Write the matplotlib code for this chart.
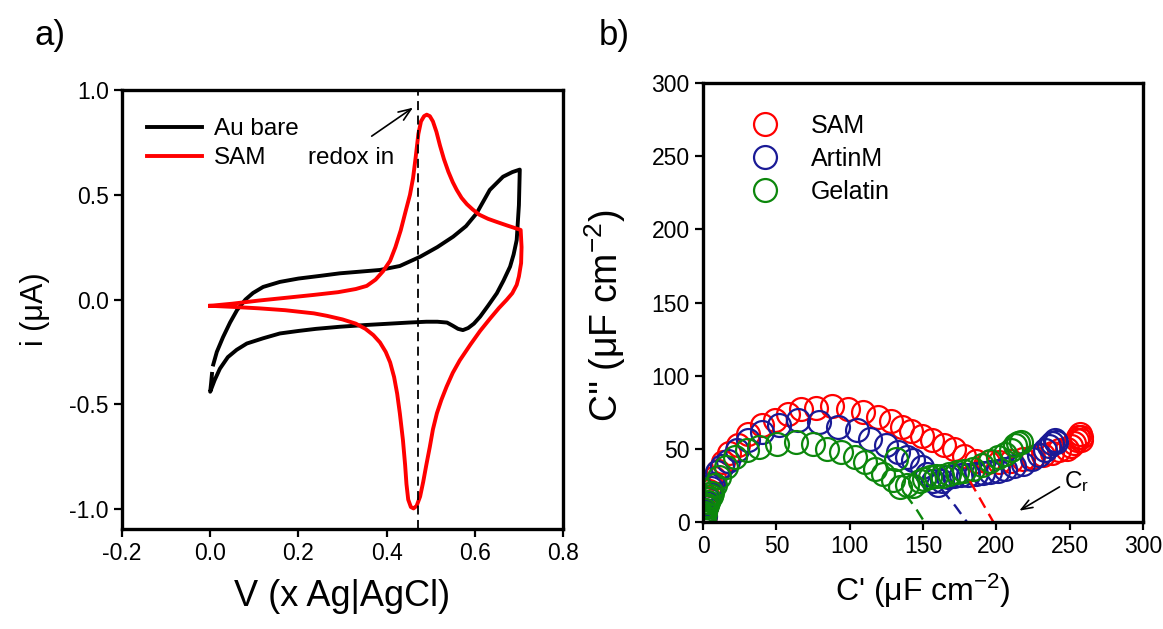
import matplotlib
matplotlib.use("Agg")
import matplotlib.pyplot as plt
from matplotlib.ticker import FormatStrFormatter

plt.rcParams['font.family'] = ['Liberation Sans', 'DejaVu Sans']
plt.rcParams['mathtext.fontset'] = 'custom'
plt.rcParams['mathtext.rm'] = 'Liberation Sans'
plt.rcParams['mathtext.default'] = 'regular'
plt.rcParams['axes.unicode_minus'] = False

# ---- panel a: cyclic voltammetry ----
bare_v = [0.007, 0.015, 0.029, 0.045, 0.061, 0.080, 0.097, 0.120, 0.158, 0.200, 0.250, 0.294,
          0.340, 0.385, 0.430, 0.476, 0.515, 0.551, 0.580, 0.604, 0.634, 0.664, 0.685, 0.702,
          0.700, 0.695, 0.688, 0.680, 0.665, 0.650, 0.630, 0.612, 0.598, 0.585, 0.573, 0.562,
          0.550, 0.537, 0.515, 0.490, 0.450, 0.400, 0.350, 0.294, 0.240, 0.200, 0.158, 0.120,
          0.083, 0.060, 0.040, 0.022, 0.010, 0.000, 0.002, 0.004]
bare_i = [-0.31, -0.25, -0.18, -0.11, -0.05, 0.00, 0.031, 0.060, 0.084, 0.100, 0.113, 0.125,
          0.133, 0.141, 0.160, 0.204, 0.250, 0.300, 0.350, 0.411, 0.523, 0.586, 0.608, 0.620,
          0.450, 0.284, 0.215, 0.157, 0.090, 0.030, -0.030, -0.082, -0.115, -0.136, -0.146, -0.140,
          -0.125, -0.110, -0.106, -0.106, -0.110, -0.116, -0.122, -0.130, -0.140, -0.150, -0.162, -0.185,
          -0.210, -0.240, -0.275, -0.330, -0.385, -0.440, -0.400, -0.355]

sam_v = [0.000, 0.050, 0.110, 0.180, 0.235, 0.290, 0.330, 0.355, 0.375, 0.392, 0.408, 0.420,
         0.432, 0.443, 0.453, 0.460, 0.466, 0.472, 0.478, 0.485, 0.491, 0.498, 0.505, 0.513,
         0.521, 0.530, 0.540, 0.550, 0.559, 0.570, 0.582, 0.595, 0.610, 0.630, 0.650, 0.675,
         0.704, 0.706, 0.705, 0.700, 0.695, 0.685, 0.672, 0.655, 0.635, 0.612, 0.590, 0.566,
         0.550, 0.536, 0.524, 0.514, 0.505, 0.498, 0.490, 0.483, 0.476, 0.468, 0.461, 0.455,
         0.449, 0.445, 0.442, 0.437, 0.430, 0.424, 0.417, 0.408, 0.398, 0.385, 0.370, 0.352,
         0.330, 0.300, 0.265, 0.235, 0.200, 0.170, 0.110, 0.050, 0.000]
sam_i = [-0.030, -0.020, -0.005, 0.010, 0.022, 0.035, 0.050, 0.065, 0.095, 0.135, 0.185, 0.250,
         0.330, 0.420, 0.500, 0.580, 0.680, 0.790, 0.850, 0.875, 0.882, 0.875, 0.850, 0.800,
         0.735, 0.670, 0.610, 0.560, 0.523, 0.485, 0.455, 0.430, 0.405, 0.385, 0.370, 0.352,
         0.332, 0.250, 0.174, 0.110, 0.070, 0.030, -0.002, -0.040, -0.090, -0.150, -0.215, -0.290,
         -0.350, -0.416, -0.480, -0.543, -0.620, -0.703, -0.790, -0.870, -0.940, -0.985, -0.997, -0.990,
         -0.955, -0.880, -0.790, -0.670, -0.543, -0.450, -0.370, -0.300, -0.250, -0.205, -0.170, -0.140,
         -0.115, -0.095, -0.078, -0.066, -0.058, -0.051, -0.042, -0.035, -0.030]

redox_v = 0.472

# ---- panel b: complex capacitance ----
sam_re = [0.3, 0.6, 1.0, 1.4, 1.9, 2.5, 3.2, 4.2, 5.5, 7.5, 10, 13.5, 18, 24, 31, 40, 49, 58, 67,
          77, 88, 99, 109, 119, 128, 136, 142, 149, 156, 164, 171, 178, 186, 194, 202, 210, 218,
          225, 232, 238, 243, 248, 251, 253, 255, 256, 257, 257.5, 258]
sam_im = [0.5, 2, 4, 7, 10, 13, 17, 21, 25, 30, 35, 41, 47, 53, 60, 66, 70, 74, 77,
          78, 79, 77, 75, 72, 69, 65, 62, 59, 56, 53, 50, 45, 42, 41, 41, 41.5, 43,
          44.5, 46, 47.5, 49, 50, 52, 54, 56, 58, 60, 58, 56]
art_re = [0.3, 0.6, 1.0, 1.5, 2.0, 2.7, 3.5, 4.5, 5.5, 7.0, 9.7, 13, 17, 23, 31, 40, 52, 65, 79,
          92, 105, 114, 125, 133, 139, 143, 149, 153, 157, 160, 163, 167, 171, 176, 181, 186, 191,
          196, 201, 206, 212, 218, 224, 229, 233, 236, 238, 240, 241]
art_im = [0.5, 2, 4, 7, 10, 13, 16, 19, 23, 26, 34, 38, 42, 49, 55.8, 61.6, 66, 69.6, 68.4,
          65, 62.7, 57, 52.4, 47.8, 44.4, 42.1, 37.5, 33, 28.4, 25, 28, 30.7, 31.5, 32, 32.5, 33, 33.5,
          34, 35, 36.4, 38, 40, 43, 46, 49, 52, 54, 56, 55]
gel_re = [0.2, 0.4, 0.6, 0.9, 1.2, 1.6, 2.0, 2.6, 3.3, 4.2, 5.2, 6.3, 8.5, 10.9, 15.4, 22, 30, 38,
          50.6, 63.5, 75.3, 84.7, 94.1, 103.5, 110.6, 117.6, 122.4, 129.4, 134.1, 131.8, 139, 143,
          148, 151, 155, 159, 163, 168, 173, 178, 184, 190, 196, 201, 206, 210, 213, 215, 217]
gel_im = [0, 1, 2, 4, 6, 8, 10, 12, 14, 16, 18, 20, 25, 30.7, 37.5, 44.4, 49, 51.3,
          53.5, 54.7, 53.5, 50.1, 47.8, 44.4, 41, 36.4, 33, 28.5, 23.9, 43.3, 25, 24.9,
          28.4, 29.5, 30.7, 31.3, 31.8, 33, 34.1, 35, 36.4, 39, 42, 44.5, 46.7, 49, 52.4, 54, 55]

# extrapolated arcs to the C' axis (Cr)
sam_ext_re = [182, 190, 198]
sam_ext_im = [28, 14, 0]
art_ext_re = [163, 172, 180]
art_ext_im = [22, 11, 0]
gel_ext_re = [138, 145, 151]
gel_ext_im = [19, 9.5, 0]

red = '#ff0000'
blue = '#1a1a96'
green = '#0c870c'

fig = plt.figure(figsize=(11.63, 6.29), dpi=100)
ax1 = fig.add_axes([0.1049, 0.159, 0.3792, 0.698])
ax2 = fig.add_axes([0.6045, 0.170, 0.3783, 0.698])

for ax in (ax1, ax2):
    for s in ax.spines.values():
        s.set_linewidth(2.4)
        s.set_zorder(5)
    ax.tick_params(direction='out', length=5.5, width=1.6, labelsize=16.5, pad=4,
                   top=False, right=False)

# panel a
ax1.plot(bare_v, bare_i, color='black', lw=2.8, label='Au bare')
ax1.plot(sam_v, sam_i, color=red, lw=2.8, label='SAM')
ax1.axvline(redox_v, color='black', lw=1.3, ls=(0, (5, 3)))
ax1.annotate('', xy=(0.465, 0.923), xytext=(0.361, 0.772),
             arrowprops=dict(arrowstyle='->,head_length=0.9,head_width=0.35', color='black', lw=1.2))
ax1.text(0.221, 0.675, 'redox in', fontsize=17.5, va='center', ha='left')
ax1.set_xlim(-0.2, 0.8)
ax1.set_ylim(-1.095, 1.0)
ax1.set_xticks([-0.2, 0.0, 0.2, 0.4, 0.6, 0.8])
ax1.set_yticks([-1.0, -0.5, 0.0, 0.5, 1.0])
ax1.xaxis.set_major_formatter(FormatStrFormatter('%.1f'))
ax1.yaxis.set_major_formatter(FormatStrFormatter('%.1f'))
ax1.set_xlabel('V (x Ag|AgCl)', fontsize=26, labelpad=10)
ax1.set_ylabel('i (μA)', fontsize=22, labelpad=14)
ax1.legend(loc='upper left', bbox_to_anchor=(0.034, 0.958), frameon=False, fontsize=17.5,
           handlelength=2.27, handletextpad=0.5, labelspacing=0.3, borderaxespad=0)

# panel b
mk = dict(marker='o', ls='none', ms=16.5, mfc='none', mew=1.6)
ax2.plot(sam_re, sam_im, mec=red, label='SAM', **mk)
ax2.plot(art_re, art_im, mec=blue, label='ArtinM', **mk)
ax2.plot(gel_re, gel_im, mec=green, label='Gelatin', **mk)
ax2.plot(sam_ext_re, sam_ext_im, color=red, lw=1.7, ls=(0, (5, 3)))
ax2.plot(art_ext_re, art_ext_im, color=blue, lw=1.7, ls=(0, (5, 3)))
ax2.plot(gel_ext_re, gel_ext_im, color=green, lw=1.7, ls=(0, (5, 3)))
ax2.annotate('', xy=(214, 6.8), xytext=(244.7, 25),
             arrowprops=dict(arrowstyle='->,head_length=0.8,head_width=0.3', color='black', lw=1.2))
ax2.text(246, 28, 'C$_r$', fontsize=17.5, va='center', ha='left')
ax2.set_xlim(0, 300)
ax2.set_ylim(0, 300)
ax2.set_xticks(range(0, 301, 50))
ax2.set_yticks(range(0, 301, 50))
ax2.set_xlabel("C' (μF cm$^{-2}$)", fontsize=23, labelpad=10)
ax2.set_ylabel("C'' (μF cm$^{-2}$)", fontsize=27)
ax2.yaxis.set_label_coords(-0.17, 0.47)
ax2.legend(loc='upper left', bbox_to_anchor=(0.061, 0.952), frameon=False, fontsize=18,
           handlelength=2.0, handletextpad=0.85, labelspacing=0.35, numpoints=1, borderaxespad=0)

fig.text(0.030, 0.944, 'a)', fontsize=25, va='center', ha='left')
fig.text(0.515, 0.944, 'b)', fontsize=25, va='center', ha='left')

fig.savefig('out.png', dpi=100)
